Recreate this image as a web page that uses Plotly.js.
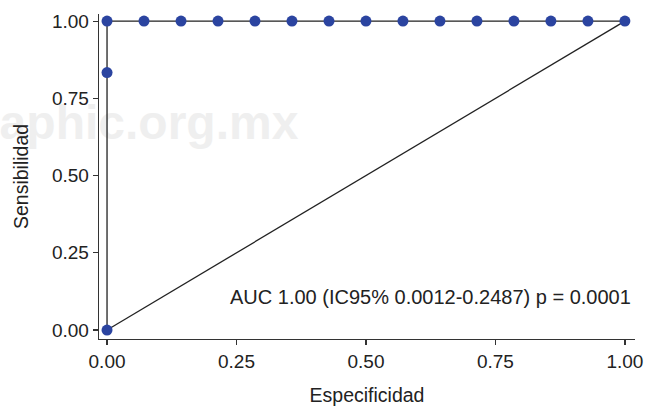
<!DOCTYPE html>
<html>
<head>
<meta charset="utf-8">
<script src="https://cdn.plot.ly/plotly-3.0.1.min.js"></script>
<style>html,body{margin:0;padding:0;background:#fff;}#chart{width:654px;height:406px;}</style>
</head>
<body>
<div id="chart"></div>
<script>
// ROC curve points
const especificidad = [0, 0, 0, 0.0714, 0.1429, 0.2143, 0.2857, 0.3571, 0.4286, 0.5, 0.5714, 0.6429, 0.7143, 0.7857, 0.8571, 0.9286, 1];
const sensibilidad  = [0, 0.8333, 1, 1, 1, 1, 1, 1, 1, 1, 1, 1, 1, 1, 1, 1, 1];
// reference diagonal
const diagX = [0, 1];
const diagY = [0, 1];
const tickVals = [0, 0.25, 0.5, 0.75, 1];
const tickText = ["0.00", "0.25", "0.50", "0.75", "1.00"];
const aucText = "AUC 1.00 (IC95% 0.0012-0.2487) p = 0.0001";
const watermark = "aphic.org.mx";

const font = "Liberation Sans, Arial, Helvetica, sans-serif";

const traces = [
  {x: [0.081], y: [0.656], mode: "text", text: [watermark], textposition: "middle center",
   textfont: {family: font, size: 48, color: "#efefef", weight: "bold"},
   cliponaxis: false, hoverinfo: "skip", showlegend: false},
  {x: diagX, y: diagY, mode: "lines", line: {color: "#222", width: 1.3}, hoverinfo: "skip", showlegend: false},
  {x: especificidad, y: sensibilidad, mode: "lines+markers",
   line: {color: "#222", width: 1.3},
   marker: {color: "#2B44A0", size: 11},
   cliponaxis: false,
   showlegend: false}
];

const axisCommon = {
  showgrid: false, zeroline: false, showline: true, linecolor: "#333", linewidth: 1.3,
  ticks: "outside", ticklen: 5, tickwidth: 1.2, tickcolor: "#333",
  tickvals: tickVals, ticktext: tickText,
  tickfont: {family: font, size: 19, color: "#222"}
};

const layout = {
  width: 654, height: 406,
  margin: {l: 99, r: 19, t: 14, b: 67},
  paper_bgcolor: "#fff", plot_bgcolor: "rgba(0,0,0,0)",
  xaxis: Object.assign({}, axisCommon, {
    range: [-0.0155, 1.0195],
    title: {text: "Especificidad", font: {family: font, size: 19.5, color: "#222"}, standoff: 20}
  }),
  yaxis: Object.assign({}, axisCommon, {
    range: [-0.029, 1.023],
    title: {text: "Sensibilidad", font: {family: font, size: 19.5, color: "#222"}, standoff: 18}
  }),
  annotations: [
    {text: aucText, xref: "x", yref: "y", x: 1.016, y: 0.107, xanchor: "right", yanchor: "middle",
     showarrow: false, font: {family: font, size: 20, color: "#222"}}
  ]
};

Plotly.newPlot("chart", traces, layout, {displayModeBar: false, staticPlot: true});
</script>
</body>
</html>
